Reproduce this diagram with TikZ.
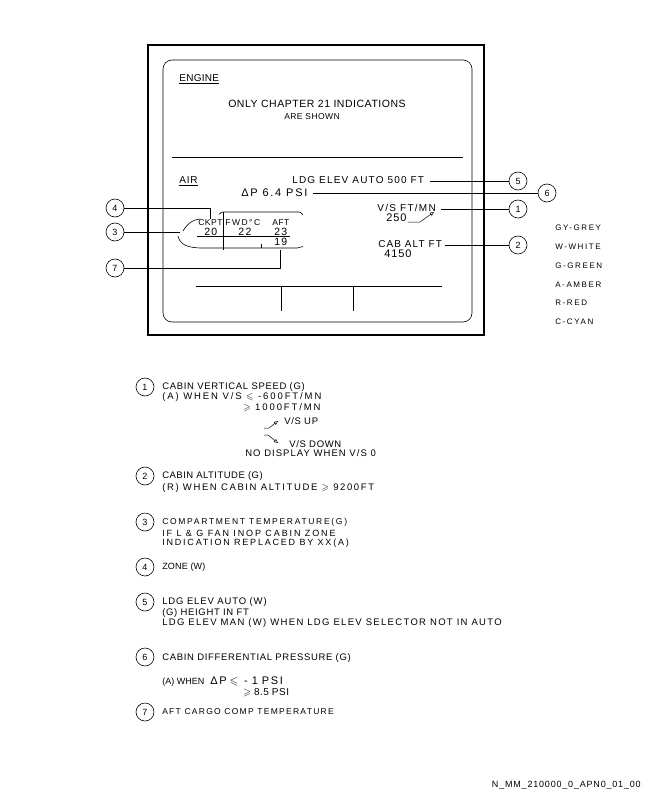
\documentclass[tikz,border=0pt]{standalone}
\usepackage{fontspec}
\setmainfont{Liberation Sans}
\usepackage{amssymb}
\usetikzlibrary{arrows.meta}
\newcommand{\trk}[1]{\addfontfeatures{LetterSpace=#1}}
\begin{document}
\begin{tikzpicture}[x=1pt,y=-1pt,line width=0.6pt,
  num/.style={circle,draw,line width=0.6pt,minimum size=18pt,inner sep=0pt,font=\fontsize{9}{9}\selectfont},
  txt/.style={anchor=west,inner sep=0pt,font=\fontsize{9.5}{10}\selectfont},
  disp/.style={anchor=west,inner sep=0pt,font=\fontsize{10}{11}\selectfont},
  big/.style={anchor=west,inner sep=0pt,font=\fontsize{11}{12}\selectfont},
  small/.style={anchor=west,inner sep=0pt,font=\fontsize{8.5}{9}\selectfont},
  comp/.style={anchor=west,inner sep=0pt,font=\fontsize{8.5}{9}\selectfont},
  digit/.style={anchor=west,inner sep=0pt,font=\fontsize{10.5}{11}\selectfont},
  legend/.style={anchor=west,inner sep=0pt,font=\fontsize{8}{9}\selectfont\addfontfeatures{LetterSpace=20}},
  vsarrow/.style={-{Triangle[open,length=4pt,width=3.5pt]},line width=0.5pt},
  ]
\useasboundingbox (0,0) rectangle (648,792);
% display frame
\draw[line width=1.1pt] (148,45) rectangle (484,335);
\draw[rounded corners=9pt] (163,60) rectangle (472,322);
% engine page
\node[disp] (engine) at (179,78) {\trk{3}ENGINE};
\draw ([yshift=-1.5pt]engine.south west) -- ([yshift=-1.5pt]engine.south east);
\node[disp,anchor=center,font=\fontsize{10.5}{11}\selectfont] (only) at (317,104) {\trk{5}ONLY CHAPTER 21 INDICATIONS};
\node[anchor=center,inner sep=0pt,font=\fontsize{8.5}{9}\selectfont] (are) at (312,117) {\trk{5}ARE SHOWN};
\draw (172,157) -- (463,157);
% air page
\node[disp] (air) at (179,180) {\trk{8}AIR};
\draw ([yshift=-1.5pt]air.south west) -- ([yshift=-1.5pt]air.south east);
\node[disp] (ldg) at (292,180) {\trk{12}LDG ELEV AUTO 500 FT};
\node[num] (d5) at (518,181) {5};
\draw ([xshift=6pt]ldg.east |- d5) -- (d5);
\node[big] (dp) at (241,193) {\trk{16}ΔP 6.4 PSI};
\node[num] (d6) at (547,193) {6};
\draw ([xshift=5pt]dp.east |- d6) -- (d6);
\node[disp] (vs) at (377,208) {\trk{13}V/S FT/MN};
\node[num] (d1) at (518,209) {1};
\draw ([xshift=5pt]vs.east |- d1) -- (d1);
\node[big] (v250) at (386,218) {\trk{8}250};
\coordinate (a0) at (420,222);
\coordinate (a1) at (434,212);
\draw[vsarrow] ([xshift=1pt]v250.east |- a0) -- (a0) -- (a1);
\node[disp] (cab) at (378,244) {\trk{11}CAB ALT FT};
\node[num] (d2) at (518,245) {2};
\draw ([xshift=3pt]cab.east |- d2) -- (d2);
\node[big] (alt) at (384,254) {\trk{8}4150};
% compartment temperatures
\node[num] (c4) at (115,208) {4};
\node[num] (c3) at (115,232) {3};
\node[num] (c7) at (115,268) {7};
\coordinate (k4) at (210,219);
\coordinate (k3) at (180,232);
\coordinate (k7) at (280,250);
\draw (c4) -| (k4);
\draw (c3) -- (k3);
\draw (c7) -| (k7);
\draw (219,214.5) .. controls (221,212) .. (226,212) -- (296,212) .. controls (301,212) .. (303,215);
\draw (223,212) -- (223,250);
\draw (183,231) .. controls (188,223) and (192,220) .. (200,219);
\draw (197,236) -- (290,236);
\draw (178,236) .. controls (180,245) and (188,247.5) .. (200,248) -- (297,248) .. controls (300,248) .. (303,246.5);
\draw (261,244) -- (261,248);
\node[comp] (ckpt) at (198,223) {\trk{6}CKPT};
\node[comp] (fwd) at (225,223) {\trk{18}FWD°C};
\node[comp] (aft) at (272,222.5) {\trk{6}AFT};
\node[digit] (t20) at (204,231.5) {\trk{12}20};
\node[digit] (t22) at (238,231.5) {\trk{15}22};
\node[digit] (t23) at (274,231.5) {\trk{12}23};
\node[digit] (t19) at (274,242) {\trk{12}19};
% lower display lines
\draw (196,286) -- (442,286);
\draw (281,286) -- (281,311);
\draw (353,286) -- (353,311);
% colour legend
\node[legend] (gy) at (555,228) {GY-GREY};
\node[legend] (w) at (555,247) {W-WHITE};
\node[legend] (g) at (555,266) {G-GREEN};
\node[legend] (a) at (555,285) {A-AMBER};
\node[legend] (r) at (555,303) {R-RED};
\node[legend] (c) at (555,322) {C-CYAN};
% explanations
\node[num] (e1) at (145,387) {1};
\node[txt] (e1a) at (162,387) {\trk{7}CABIN VERTICAL SPEED (G)};
\node[txt] (e1b) at (162,397) {\trk{20}(A) WHEN V/S $\leqslant$ -600FT/MN};
\node[txt] (e1c) at (243,408) {\trk{20}$\geqslant$ 1000FT/MN};
\coordinate (u0) at (264,428);
\coordinate (u1) at (269,428);
\coordinate (u2) at (278,421);
\draw[vsarrow] (u0) -- (u1) -- (u2);
\node[txt] (e1d) at (284,421) {\trk{7}V/S UP};
\coordinate (w0) at (264,435);
\coordinate (w1) at (268,435);
\coordinate (w2) at (278,443);
\draw[vsarrow] (w0) -- (w1) -- (w2);
\node[txt] (e1e) at (289,444) {\trk{7}V/S DOWN};
\node[txt] (e1f) at (245,453.5) {\trk{11}NO DISPLAY WHEN V/S 0};
\node[num] (e2) at (145,476) {2};
\node[txt] (e2a) at (162,476) {\trk{5}CABIN ALTITUDE (G)};
\node[txt] (e2b) at (162,488) {\trk{17}(R) WHEN CABIN ALTITUDE $\geqslant$ 9200FT};
\node[num] (e3) at (145,522) {3};
\node[small] (e3a) at (162,522) {\trk{20}COMPARTMENT TEMPERATURE(G)};
\node[txt,font=\fontsize{9}{9}\selectfont] (e3b) at (162,533) {\trk{21}IF L \& G FAN INOP CABIN ZONE};
\node[txt,font=\fontsize{9}{9}\selectfont] (e3c) at (162,543) {\trk{20}INDICATION REPLACED BY XX(A)};
\node[num] (e4) at (145,567) {4};
\node[txt,font=\fontsize{9}{9}\selectfont] (e4a) at (162,567) {\trk{2}ZONE (W)};
\node[num] (e5) at (145,602) {5};
\node[txt] (e5a) at (162,602) {\trk{9}LDG ELEV AUTO (W)};
\node[txt] (e5b) at (162,613) {\trk{7}(G) HEIGHT IN FT};
\node[txt] (e5c) at (162,623) {\trk{14}LDG ELEV MAN (W) WHEN LDG ELEV SELECTOR NOT IN AUTO};
\node[num] (e6) at (145,657) {6};
\node[txt] (e6a) at (162,658) {\trk{7}CABIN DIFFERENTIAL PRESSURE (G)};
\node[txt,font=\fontsize{9}{9}\selectfont] (e6b) at (162,682) {(A) WHEN};
\node[big] (e6c) at (210,681) {\trk{15}ΔP\hspace{3pt}$\leqslant$\hspace{6pt}-\hspace{4pt}1\hspace{4pt}PSI};
\node[disp] (e6d) at (243,693) {\trk{5}$\geqslant$\hspace{3pt}8.5\hspace{3pt}PSI};
\node[num] (e7) at (145,712) {7};
\node[small] (e7a) at (162,712) {\trk{15}AFT CARGO COMP TEMPERATURE};
% footer
\node[anchor=east,inner sep=0pt,font=\fontsize{9}{9}\selectfont\addfontfeatures{LetterSpace=9}] (foot) at (641,785) {N\_MM\_210000\_0\_APN0\_01\_00};
\end{tikzpicture}
\end{document}
